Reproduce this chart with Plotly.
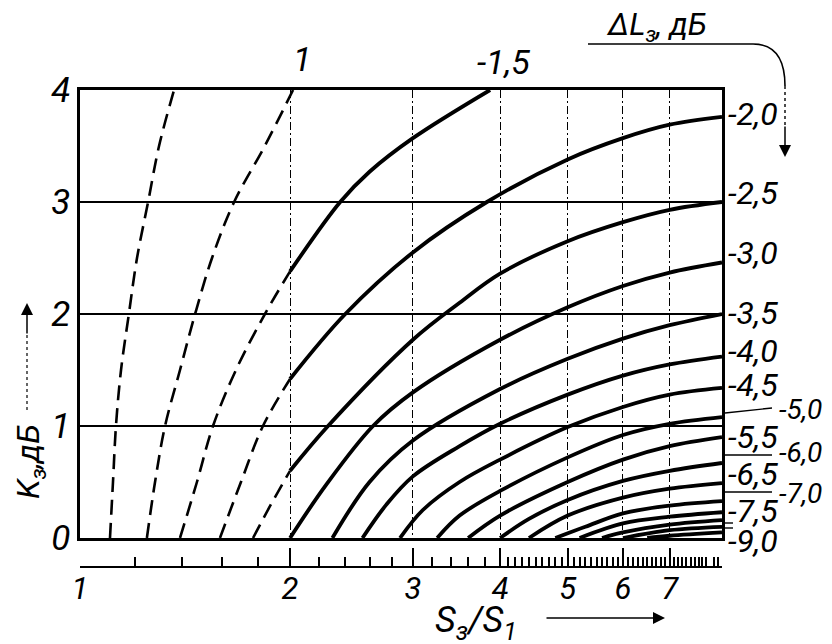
import math
import plotly.graph_objects as go

# ============================================================
# Data: K_з (dB) vs S_з/S_1, one curve per ΔL_з
# dashed part = S_з/S_1 < 2, solid part = S_з/S_1 >= 2
# ============================================================
X_MAX = 8.32

# ΔLз = -0.5 (dashed only, unlabeled)
m05_x = [1.104, 1.115, 1.126, 1.145, 1.175, 1.207, 1.252, 1.298, 1.364]
m05_y = [0, 0.5, 1.0, 1.5, 2.0, 2.5, 3.0, 3.5, 4.0]

# ΔLз = -1 (dashed only, labeled "1" on top)
m10_x = [1.247, 1.281, 1.324, 1.391, 1.462, 1.546, 1.663, 1.84, 2.02]
m10_y = [0, 0.5, 1.0, 1.5, 2.0, 2.5, 3.0, 3.5, 4.0]

# ΔLз = -1.5
m15_dash_x = [1.391, 1.471, 1.551, 1.673, 1.841, 2.0]
m15_dash_y = [0, 0.5, 1.0, 1.5, 2.0, 2.38]
m15_x = [2.0, 2.36, 2.6, 3.0, 3.87]
m15_y = [2.38, 3.0, 3.27, 3.57, 4.0]

# ΔLз = -2.0
m20_dash_x = [1.587, 1.701, 1.829, 2.0]
m20_dash_y = [0, 0.5, 1.0, 1.42]
m20_x = [2.0, 2.4, 3.0, 3.83, 5.0, 6.0, 7.0, X_MAX]
m20_y = [1.42, 2.0, 2.55, 3.0, 3.38, 3.57, 3.69, 3.76]

# ΔLз = -2.5
m25_dash_x = [1.77, 1.878, 2.0]
m25_dash_y = [0, 0.3, 0.6]
m25_x = [2.0, 2.267, 3.0, 3.5, 4.0, 5.0, 6.0, 7.0, X_MAX]
m25_y = [0.6, 1.0, 1.77, 2.1, 2.36, 2.65, 2.82, 2.93, 3.0]

# ΔLз = -3.0 ... -9.0 (solid, start on the S axis)
m30_x = [2.0, 2.25, 2.63, 3.0, 4.0, 5.0, 6.0, 7.0, X_MAX]
m30_y = [0, 0.47, 1.0, 1.3, 1.77, 2.06, 2.25, 2.37, 2.46]

m35_x = [2.3, 2.6, 3.0, 4.0, 5.0, 6.0, 7.0, X_MAX]
m35_y = [0, 0.5, 0.87, 1.33, 1.6, 1.78, 1.9, 2.0]

m40_x = [2.54, 2.75, 3.0, 3.5, 4.0, 5.0, 6.0, 7.0, X_MAX]
m40_y = [0, 0.3, 0.55, 0.82, 1.02, 1.28, 1.45, 1.55, 1.62]

m45_x = [2.875, 3.1, 3.5, 4.0, 5.0, 6.0, 7.0, X_MAX]
m45_y = [0, 0.25, 0.5, 0.7, 0.99, 1.17, 1.28, 1.34]

m50_x = [3.25, 3.5, 4.0, 5.0, 6.0, 7.0, X_MAX]
m50_y = [0, 0.2, 0.42, 0.72, 0.92, 1.02, 1.08]

m55_x = [3.6, 4.0, 5.0, 6.0, 7.0, X_MAX]
m55_y = [0, 0.2, 0.5, 0.7, 0.82, 0.9]

m60_x = [4.0, 4.4, 5.0, 6.0, 7.0, X_MAX]
m60_y = [0, 0.17, 0.34, 0.51, 0.6, 0.67]

m65_x = [4.4, 5.0, 6.0, 7.0, X_MAX]
m65_y = [0, 0.2, 0.36, 0.44, 0.49]

m70_x = [4.8, 5.3, 6.0, 7.0, X_MAX]
m70_y = [0, 0.1, 0.22, 0.29, 0.33]

m75_x = [5.2, 6.0, 7.0, X_MAX]
m75_y = [0, 0.13, 0.19, 0.23]

m80_x = [5.6, 6.0, 7.0, X_MAX]
m80_y = [0, 0.05, 0.12, 0.16]

m85_x = [6.0, 7.0, X_MAX]
m85_y = [0, 0.07, 0.10]

m90_x = [6.5, 7.0, X_MAX]
m90_y = [0, 0.02, 0.05]

DASHED = [(m05_x, m05_y), (m10_x, m10_y), (m15_dash_x, m15_dash_y),
          (m20_dash_x, m20_dash_y), (m25_dash_x, m25_dash_y)]
SOLID = [(m15_x, m15_y), (m20_x, m20_y), (m25_x, m25_y), (m30_x, m30_y),
         (m35_x, m35_y), (m40_x, m40_y), (m45_x, m45_y), (m50_x, m50_y),
         (m55_x, m55_y), (m60_x, m60_y), (m65_x, m65_y), (m70_x, m70_y),
         (m75_x, m75_y), (m80_x, m80_y), (m85_x, m85_y), (m90_x, m90_y)]

# axis ticks
X_TICKS = [1, 2, 3, 4, 5, 6, 7]
X_TICK_TEXT = ["1", "2", "3", "4", "5", "6", "7"]
Y_TICKS = [0, 1, 2, 3, 4]
Y_TICK_TEXT = ["0", "1", "2", "3", "4"]
X_MINOR = ([1.2, 1.4, 1.6, 1.8, 2.2, 2.4, 2.6, 2.8, 3.2, 3.4, 3.6, 3.8]
           + [round(4 + 0.1 * i, 1) for i in range(1, 44) if i % 10])

# curve labels on the right edge (inner / outer column)
RIGHT_LABELS = ["-2,0", "-2,5", "-3,0", "-3,5", "-4,0", "-4,5",
                "-5,5", "-6,5", "-7,5", "-9,0"]
OUTER_LABELS = ["-5,0", "-6,0", "-7,0"]

# ============================================================
# Styling
# ============================================================
FONT = "Roboto, Liberation Sans, sans-serif"
INK = "black"


def px(x):  # page pixel -> paper x
    return (x - 80) / 642


def py(y):  # page pixel -> paper y
    return (567 - y) / 477


fig = go.Figure()

for xs, ys in DASHED:
    fig.add_trace(go.Scatter(
        x=xs, y=ys, mode="lines",
        line=dict(color=INK, width=2.6, dash="15px,8px", shape="spline", smoothing=1.0),
        hoverinfo="skip", showlegend=False,
    ))

for xs, ys in SOLID:
    fig.add_trace(go.Scatter(
        x=xs, y=ys, mode="lines",
        line=dict(color=INK, width=3.8, shape="spline", smoothing=1.0),
        hoverinfo="skip", showlegend=False,
    ))

# invisible trace so the ruler axis (x2) is drawn
fig.add_trace(go.Scatter(x=[1], y=[0], xaxis="x2", mode="markers",
                         marker=dict(opacity=0), hoverinfo="skip", showlegend=False))

x_range = [0, math.log10(X_MAX)]

# page has an 8px body margin -> figure is 8px smaller and margins shifted
fig.update_layout(
    width=824, height=636,
    margin=dict(l=72, r=110, t=82, b=77),
    plot_bgcolor="white", paper_bgcolor="white",
    showlegend=False,
    font=dict(family=FONT, size=30, color=INK, style="italic"),
    xaxis=dict(
        type="log", range=x_range, automargin=False,
        tickvals=X_TICKS[1:], showticklabels=False, ticks="",
        showgrid=True, gridcolor=INK, gridwidth=1.4, griddash="8px,3px,2px,3px",
        showline=True, mirror=True, linecolor=INK, linewidth=2.5,
        zeroline=False,
    ),
    xaxis2=dict(
        type="log", range=x_range, overlaying="x", anchor="free", position=0,
        automargin=False,
        side="bottom", tickmode="array", tickvals=X_TICKS, ticktext=X_TICK_TEXT,
        ticks="inside", ticklen=18, tickwidth=1.5, tickcolor=INK,
        showline=True, linecolor=INK, linewidth=2, showgrid=False, zeroline=False,
        minor=dict(tickmode="array", tickvals=X_MINOR, ticks="inside", ticklen=9,
                   tickwidth=1.5, tickcolor=INK, showgrid=False),
        tickfont=dict(size=31), ticklabelstandoff=-6,
    ),
    yaxis=dict(
        range=[0, 4], domain=[(567 - 538) / 477, 1], automargin=False,
        tickvals=Y_TICKS, ticktext=Y_TICK_TEXT, ticks="",
        showgrid=True, gridcolor=INK, gridwidth=2,
        showline=True, mirror=True, linecolor=INK, linewidth=2.5,
        zeroline=False, tickfont=dict(size=35),
    ),
)


def label(x, y, text, size, xanchor="center", angle=0):
    return dict(x=px(x), y=py(y), xref="paper", yref="paper", text=text,
                showarrow=False, xanchor=xanchor, yanchor="middle",
                textangle=angle, font=dict(size=size))


def arrow(x, y, ax, ay):
    return dict(x=px(x), y=py(y), xref="paper", yref="paper", text="",
                showarrow=True, arrowhead=2, arrowsize=1.6, arrowwidth=1.5,
                arrowcolor=INK, ax=ax, ay=ay, xanchor="center", yanchor="middle")


# ---- text annotations
ann = []
label_y_px = [114, 193, 253, 313, 351, 385, 437, 474, 511, 541]
for t, ypx in zip(RIGHT_LABELS, label_y_px):
    ann.append(label(726, ypx, t, 32, xanchor="left"))
outer_y_px = [410, 452, 493]
for t, ypx in zip(OUTER_LABELS, outer_y_px):
    ann.append(label(777, ypx, t, 28, xanchor="left"))

# top curve labels
ann.append(label(302, 59, "1", 34))
ann.append(label(503, 62, "-1,5", 34))

# ΔLз, дБ header with bent arrow
ann.append(label(656, 26, "ΔL<sub>з</sub>, дБ", 31))
ann.append(arrow(785, 157, 0, -32))

# axis titles
ann.append(label(30, 462, "K<sub>з</sub>,дБ", 32, angle=-90))
ann.append(arrow(27, 303, 0, 32))
ann.append(label(476, 622, "S<sub>з</sub>/S<sub>1</sub>", 36))
ann.append(arrow(665, 618, -120, 0))

fig.update_layout(annotations=ann)

# ---- leader lines and connecting strokes
shapes = [
    dict(type="path", xref="paper", yref="paper",
         path=f"M {px(588)},{py(44)} L {px(753)},{py(44)} "
              f"Q {px(785)},{py(44)} {px(785)},{py(86)}",
         line=dict(color=INK, width=1.6)),
    dict(type="line", xref="paper", yref="paper",
         x0=px(785), y0=py(86), x1=px(785), y1=py(128),
         line=dict(color=INK, width=1.4, dash="dot")),
    dict(type="line", xref="paper", yref="paper",
         x0=px(27), y0=py(410), x1=px(27), y1=py(335),
         line=dict(color=INK, width=1.2, dash="dot")),
    dict(type="line", xref="paper", yref="paper",
         x0=px(725), y0=py(413), x1=px(772), y1=py(408),
         line=dict(color=INK, width=1.4)),
    dict(type="line", xref="paper", yref="paper",
         x0=px(725), y0=py(455), x1=px(772), y1=py(455),
         line=dict(color=INK, width=1.4)),
    dict(type="line", xref="paper", yref="paper",
         x0=px(725), y0=py(492), x1=px(772), y1=py(492),
         line=dict(color=INK, width=1.4)),
    # the "=" ticks for the unlabeled -8,0 / -8,5 curves
    dict(type="line", xref="paper", yref="paper",
         x0=px(725), y0=py(523), x1=px(733), y1=py(523),
         line=dict(color=INK, width=1.4)),
    dict(type="line", xref="paper", yref="paper",
         x0=px(725), y0=py(528), x1=px(733), y1=py(528),
         line=dict(color=INK, width=1.4)),
]
fig.update_layout(shapes=shapes)

fig.write_html("out.html")
